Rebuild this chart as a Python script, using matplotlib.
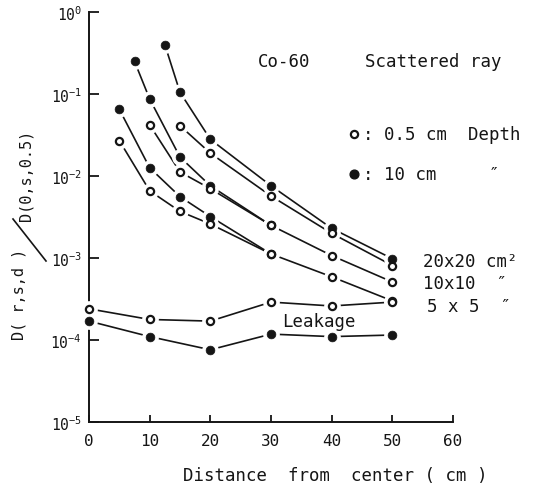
import matplotlib
matplotlib.use("Agg")
from matplotlib import pyplot as plt
from matplotlib.lines import Line2D
from matplotlib.ticker import NullLocator

# scattered dose ratio, 10 cm depth (solid) and 0.5 cm depth (open)
x_20_solid = [12.5, 15, 20, 30, 40, 50]
y_20_solid = [0.40, 0.105, 0.028, 0.0076, 0.0023, 0.00098]
x_20_open = [15, 20, 30, 40, 50]
y_20_open = [0.041, 0.019, 0.0057, 0.0020, 0.00081]

x_10_solid = [7.5, 10, 15, 20, 30]
y_10_solid = [0.25, 0.087, 0.017, 0.0076, 0.0025]
x_10_open = [10, 15, 20, 30, 40, 50]
y_10_open = [0.042, 0.0112, 0.0070, 0.0025, 0.00107, 0.00051]

x_5_solid = [5, 10, 15, 20, 30]
y_5_solid = [0.065, 0.0126, 0.0056, 0.0032, 0.00112]
x_5_open = [5, 10, 15, 20, 30, 40, 50]
y_5_open = [0.027, 0.0066, 0.0037, 0.0026, 0.00112, 0.00059, 0.00030]

# leakage
x_leak = [0, 10, 20, 30, 40, 50]
y_leak_open = [0.00024, 0.000178, 0.00017, 0.00029, 0.00026, 0.00029]
y_leak_solid = [0.00017, 0.00011, 0.000076, 0.000118, 0.00011, 0.000115]

x_ticks = [0, 10, 20, 30, 40, 50, 60]
y_ticks = [1e0, 1e-1, 1e-2, 1e-3, 1e-4, 1e-5]
y_tick_labels = ["$10^{0}$", "$10^{-1}$", "$10^{-2}$", "$10^{-3}$", "$10^{-4}$", "$10^{-5}$"]

INK = "#151515"
W, H = 539, 485

plt.rcParams["font.family"] = ["DejaVu Sans Mono", "DejaVu Sans"]
plt.rcParams["mathtext.default"] = "regular"


def fx(x):
    return x / W


def fy(y):
    return 1 - y / H


fig = plt.figure(figsize=(W / 100, H / 100), dpi=100)
ax = fig.add_axes([fx(89), fy(423), (453 - 89) / W, (423 - 13) / H])

solid = [(x_20_solid, y_20_solid), (x_10_solid, y_10_solid), (x_5_solid, y_5_solid),
         (x_leak, y_leak_solid)]
hollow = [(x_20_open, y_20_open), (x_10_open, y_10_open), (x_5_open, y_5_open),
          (x_leak, y_leak_open)]

for xs, ys in solid + hollow:
    ax.plot(xs, ys, color=INK, lw=1.2, zorder=2, clip_on=False)
# white halos leave little gaps between the lines and the markers
for xs, ys in solid + hollow:
    ax.plot(xs, ys, ls="none", marker="o", ms=11, mfc="white", mec="white",
            zorder=3, clip_on=False)
for xs, ys in solid:
    ax.plot(xs, ys, ls="none", marker="o", ms=6.3, mfc=INK, mec=INK, mew=0.5,
            zorder=4, clip_on=False)
for xs, ys in hollow:
    ax.plot(xs, ys, ls="none", marker="o", ms=5.2, mfc="white", mec=INK, mew=1.6,
            zorder=5, clip_on=False)

ax.set_yscale("log")
ax.set_xlim(0, 60)
ax.set_ylim(1e-5, 1)
ax.set_xticks(x_ticks)
ax.set_xticklabels([str(v) for v in x_ticks])
ax.set_yticks(y_ticks)
ax.set_yticklabels(y_tick_labels)
ax.yaxis.set_minor_locator(NullLocator())
for side in ("top", "right"):
    ax.spines[side].set_visible(False)
for side in ("left", "bottom"):
    ax.spines[side].set_linewidth(1.4)
    ax.spines[side].set_color(INK)
ax.tick_params(axis="y", direction="in", length=7, width=1.3, pad=5,
               labelsize=10.5, colors=INK)
ax.tick_params(axis="x", direction="in", length=5, width=1.3, pad=8,
               labelsize=11.5, colors=INK)

# y label: D(r,s,d) / D(0,s,0.5) written as a slanted fraction
fig.text(fx(19), fy(294), "D( r,s,d )", rotation=90, ha="center", va="center",
         fontsize=11, color=INK)
fig.text(fx(26), fy(175), "D(0,s,0.5)", rotation=90, ha="center", va="center",
         fontsize=11, color=INK)
fig.add_artist(Line2D([fx(13), fx(46)], [fy(220), fy(262)], transform=fig.transFigure,
                      color=INK, lw=1.2))

fig.text(fx(183), fy(476), "Distance  from  center ( cm )", ha="left", va="center",
         fontsize=12.5, color=INK)

fig.text(fx(258), fy(62), "Co-60", ha="left", va="center", fontsize=12.5, color=INK)
fig.text(fx(365), fy(62), "Scattered ray", ha="left", va="center", fontsize=12.5, color=INK)

fig.add_artist(Line2D([fx(354)], [fy(135)], transform=fig.transFigure, ls="none",
                      marker="o", ms=5.2, mfc="white", mec=INK, mew=1.6))
fig.text(fx(363), fy(135), ": 0.5 cm  Depth", ha="left", va="center", fontsize=12.5, color=INK)
fig.add_artist(Line2D([fx(354)], [fy(175)], transform=fig.transFigure, ls="none",
                      marker="o", ms=6.3, mfc=INK, mec=INK))
fig.text(fx(363), fy(175), ": 10 cm     \u2033", ha="left", va="center", fontsize=12.5, color=INK)

fig.text(fx(423), fy(262), "20x20 cm\u00b2", ha="left", va="center", fontsize=12.5, color=INK)
fig.text(fx(423), fy(284), "10x10  \u2033", ha="left", va="center", fontsize=12.5, color=INK)
fig.text(fx(427), fy(307), "5 x 5  \u2033", ha="left", va="center", fontsize=12.5, color=INK)
fig.text(fx(282), fy(322), "Leakage", ha="left", va="center", fontsize=12.5, color=INK)

fig.savefig("out.png", dpi=100, facecolor="white")
